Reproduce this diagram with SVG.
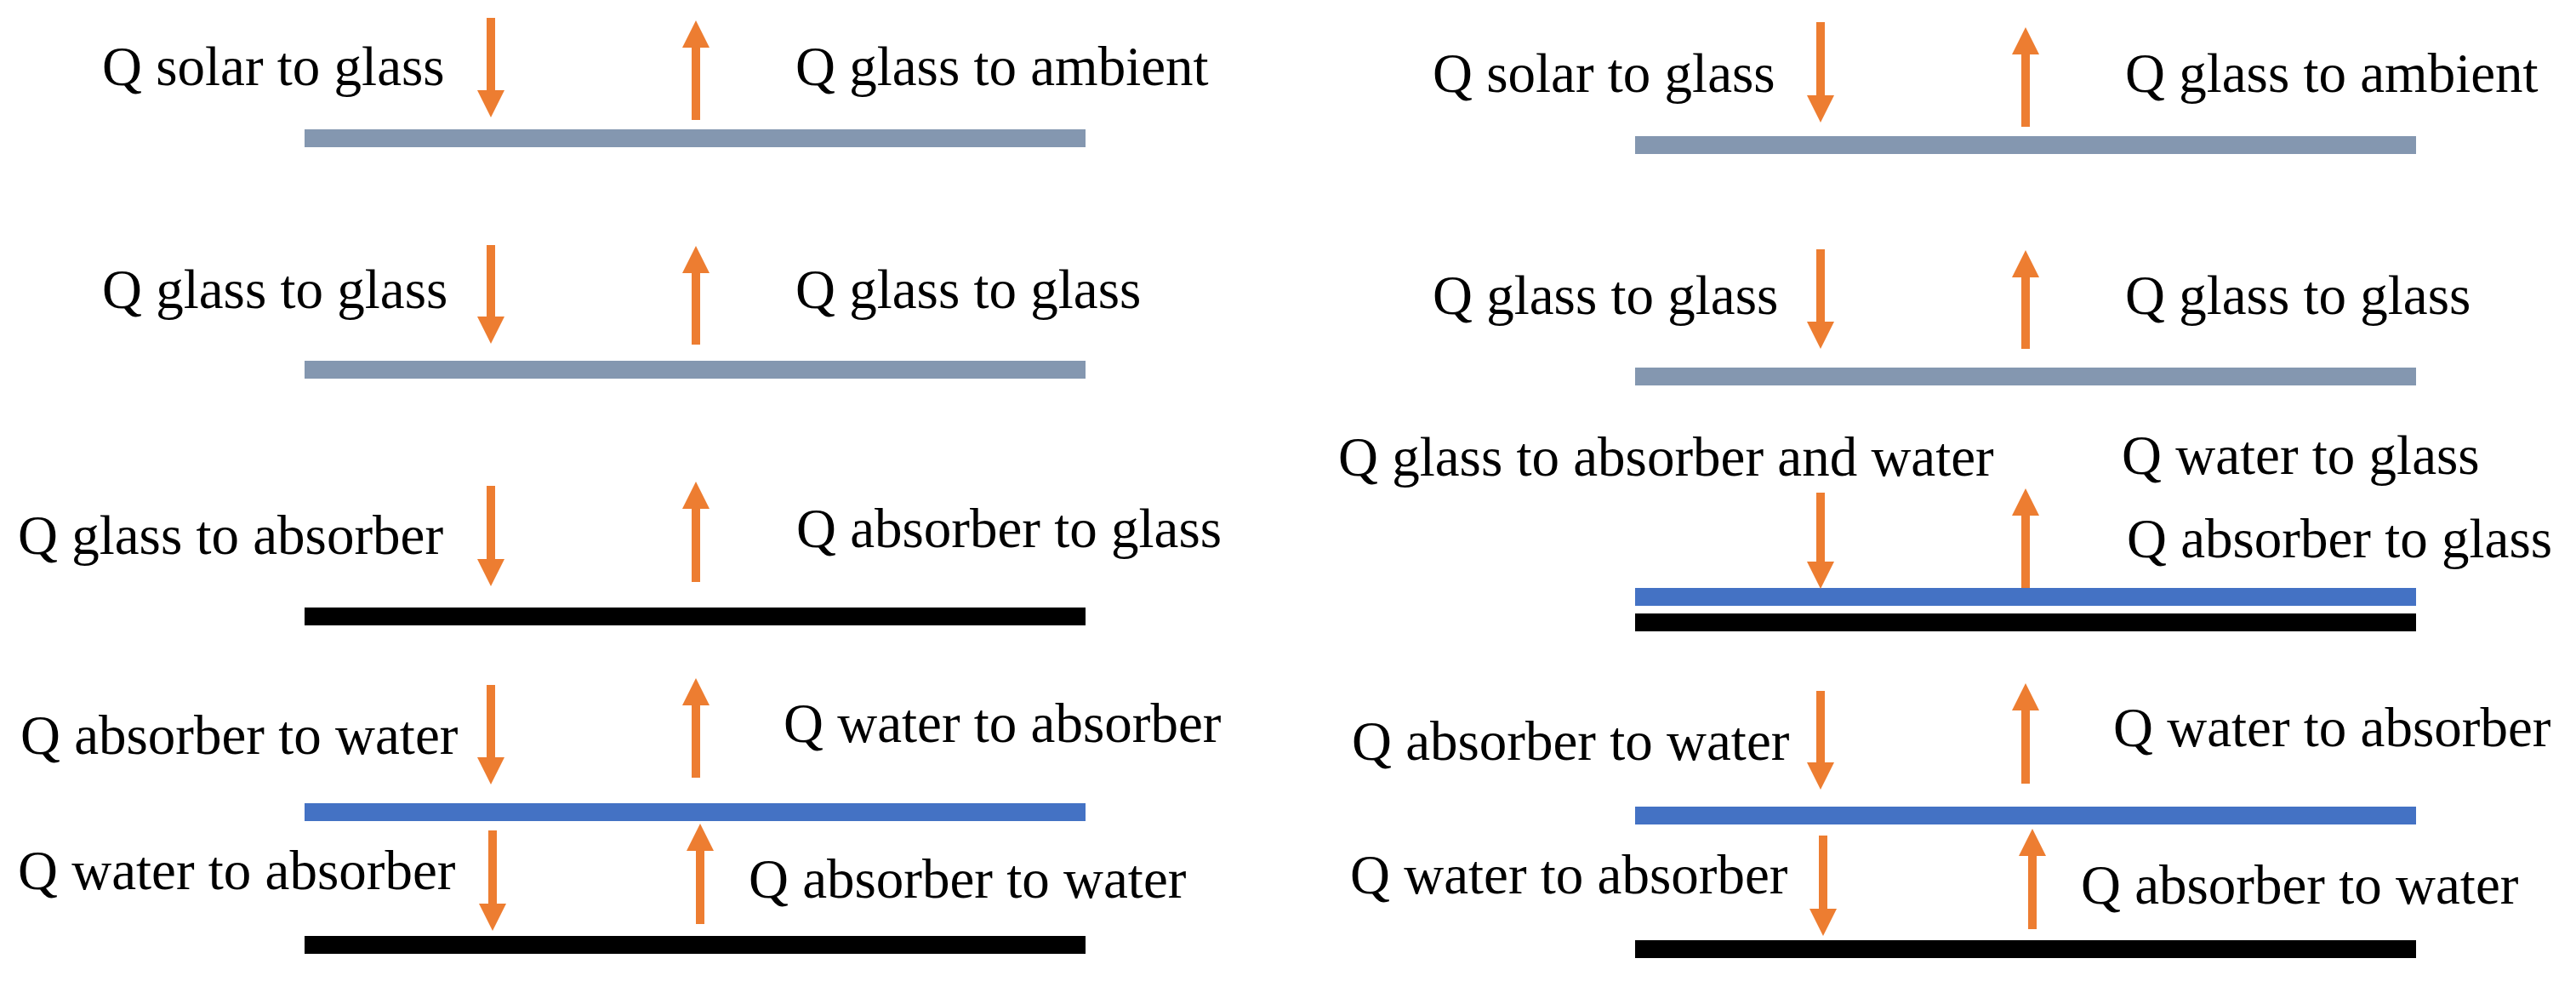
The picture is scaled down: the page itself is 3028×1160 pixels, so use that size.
<svg xmlns="http://www.w3.org/2000/svg" width="3028" height="1160" viewBox="0 0 3028 1160">
<style>
.lbl{font-size:65px;fill:#000}
.glass{fill:#8497B0}
.water{fill:#4472C4}
.abs{fill:#000}
.arr{stroke:#ED7D31;stroke-width:10;fill:none;marker-end:url(#ah)}
</style>
<defs>
<marker id="ah" markerUnits="userSpaceOnUse" markerWidth="32" markerHeight="32" viewBox="0 0 32 32" refX="0" refY="16" orient="auto">
<path d="M0,0 L32,16 L0,32 z" fill="#ED7D31"/>
</marker>
</defs>
<rect width="3028" height="1160" fill="#fff"/>
<g id="left-panel">
<g id="L-glass1"><rect class="glass" x="358" y="152" width="918" height="21"/></g>
<g id="L-glass2"><rect class="glass" x="358" y="424" width="918" height="21"/></g>
<g id="L-absorber1"><rect class="abs" x="358" y="714" width="918" height="21"/></g>
<g id="L-water"><rect class="water" x="358" y="944" width="918" height="21"/></g>
<g id="L-absorber2"><rect class="abs" x="358" y="1100" width="918" height="21"/></g>
<g id="L-labels" class="lbl" font-family="'Liberation Serif', 'Times New Roman', serif">
<text x="120" y="100">Q solar to glass</text>
<text x="935" y="100">Q glass to ambient</text>
<text x="120" y="362">Q glass to glass</text>
<text x="935" y="362">Q glass to glass</text>
<text x="21" y="651">Q glass to absorber</text>
<text x="936" y="643">Q absorber to glass</text>
<text x="24" y="886">Q absorber to water</text>
<text x="921" y="872">Q water to absorber</text>
<text x="21" y="1045">Q water to absorber</text>
<text x="880" y="1055">Q absorber to water</text>
</g>
</g>
<g id="right-panel">
<g id="R-glass1"><rect class="glass" x="1922" y="160" width="918" height="21"/></g>
<g id="R-glass2"><rect class="glass" x="1922" y="432" width="918" height="21"/></g>
<g id="R-water1"><rect class="water" x="1922" y="691" width="918" height="21"/></g>
<g id="R-absorber1"><rect class="abs" x="1922" y="721" width="918" height="21"/></g>
<g id="R-water2"><rect class="water" x="1922" y="948" width="918" height="21"/></g>
<g id="R-absorber2"><rect class="abs" x="1922" y="1105" width="918" height="21"/></g>
<g id="R-labels" class="lbl" font-family="'Liberation Serif', 'Times New Roman', serif">
<text x="1684" y="108">Q solar to glass</text>
<text x="2498" y="108">Q glass to ambient</text>
<text x="1684" y="369">Q glass to glass</text>
<text x="2498" y="369">Q glass to glass</text>
<text x="1573" y="559">Q glass to absorber and water</text>
<text x="2494" y="557">Q water to glass</text>
<text x="2500" y="655">Q absorber to glass</text>
<text x="1589" y="893">Q absorber to water</text>
<text x="2484" y="877">Q water to absorber</text>
<text x="1587" y="1050">Q water to absorber</text>
<text x="2446" y="1062">Q absorber to water</text>
</g>
</g>
<g id="connectors">
<path class="arr" d="M577,21 V106"/>
<path class="arr" d="M818,141 V56"/>
<path class="arr" d="M577,288 V372"/>
<path class="arr" d="M818,405 V321"/>
<path class="arr" d="M577,571 V657"/>
<path class="arr" d="M818,684 V598"/>
<path class="arr" d="M577,805 V890"/>
<path class="arr" d="M818,914 V829"/>
<path class="arr" d="M579,976 V1062"/>
<path class="arr" d="M823,1086 V1000"/>
<path class="arr" d="M2140,26 V112"/>
<path class="arr" d="M2381,149 V64"/>
<path class="arr" d="M2140,293 V378"/>
<path class="arr" d="M2381,410 V326"/>
<path class="arr" d="M2140,579 V660"/>
<path class="arr" d="M2381,691 V606"/>
<path class="arr" d="M2140,812 V896"/>
<path class="arr" d="M2381,921 V835"/>
<path class="arr" d="M2143,982 V1068"/>
<path class="arr" d="M2389,1092 V1006"/>
</g>
</svg>
